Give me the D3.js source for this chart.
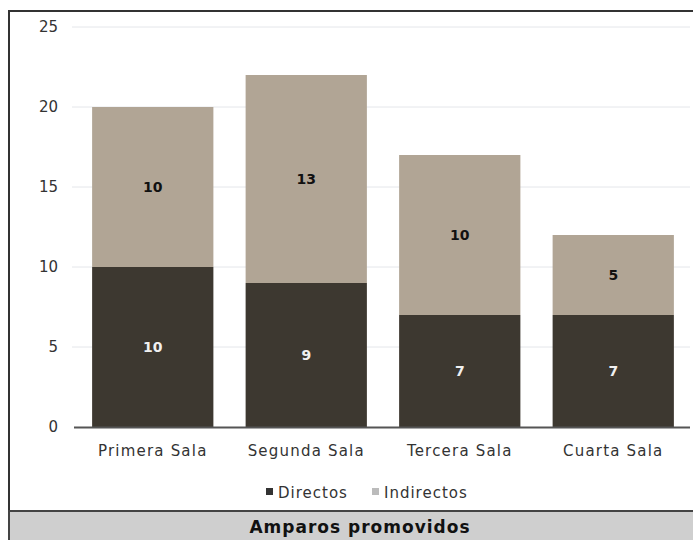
<!DOCTYPE html>
<html>
<head>
<meta charset="utf-8">
<script src="https://cdn.jsdelivr.net/npm/d3@7"></script>
<style>
body { margin: 0; background: #fff; }
text { font-family: "DejaVu Sans", sans-serif; }
</style>
</head>
<body>
<script>
// data
let salas = ["Primera Sala", "Segunda Sala", "Tercera Sala", "Cuarta Sala"];
let directos = [10, 9, 7, 7];
let indirectos = [10, 13, 10, 5];
let yTicks = [0, 5, 10, 15, 20, 25];
let seriesNames = ["Directos", "Indirectos"];
let title = "Amparos promovidos";

let colors = {Directos: "#3d3830", Indirectos: "#b1a595"};

let width = 693, height = 540;

let svg = d3.select("body").append("svg")
    .attr("width", width)
    .attr("height", height);

// outer frame + bottom band
svg.append("rect").attr("x", 9).attr("y", 11).attr("width", 700).attr("height", 540)
    .style("fill", "#fff").style("stroke", "#333").style("stroke-width", 2);
svg.append("rect").attr("x", 9).attr("y", 511).attr("width", 700).attr("height", 40)
    .style("fill", "#cfcfcf").style("stroke", "#444").style("stroke-width", 2);
svg.append("text")
    .attr("x", 360).attr("y", 533)
    .style("text-anchor", "middle")
    .style("font-weight", "bold")
    .style("font-size", "17px")
    .style("letter-spacing", "1px")
    .style("fill", "#111")
    .text(title);

// scales
var x = d3.scaleBand().domain(salas).range([76, 690]).paddingInner(0.21).paddingOuter(0.105);
var y = d3.scaleLinear().domain([0, 25]).range([427, 27]);

// gridlines
svg.append("g").selectAll("line")
    .data(yTicks.filter(d => d > 0))
    .join("line")
    .attr("x1", 72).attr("x2", 690)
    .attr("y1", d => y(d)).attr("y2", d => y(d))
    .style("stroke", "#e4e6ea").style("stroke-width", 1);

// y axis labels
var yAxis = svg.append("g")
    .attr("transform", "translate(58,0)")
    .call(d3.axisLeft(y).tickValues(yTicks).tickSize(0).tickPadding(0));
yAxis.select(".domain").remove();
yAxis.selectAll("text")
    .style("font-size", "15px")
    .style("fill", "#333")
    .attr("font-family", null);

// stacked bars
let table = salas.map((s, i) => ({sala: s, Directos: directos[i], Indirectos: indirectos[i]}));
let stack = d3.stack().keys(seriesNames)(table);

let layers = svg.append("g").selectAll("g")
    .data(stack)
    .join("g")
    .style("fill", d => colors[d.key]);

layers.selectAll("rect")
    .data(d => d)
    .join("rect")
    .attr("x", d => x(d.data.sala))
    .attr("width", x.bandwidth())
    .attr("y", d => y(d[1]))
    .attr("height", d => y(d[0]) - y(d[1]));

layers.selectAll("text")
    .data(d => d.map(v => ({key: d.key, v: v})))
    .join("text")
    .attr("x", d => x(d.v.data.sala) + x.bandwidth() / 2)
    .attr("y", d => y((d.v[0] + d.v[1]) / 2) + 5)
    .style("text-anchor", "middle")
    .style("font-weight", "bold")
    .style("font-size", "14px")
    .style("fill", d => d.key === "Directos" ? "#f0f0f0" : "#111")
    .text(d => d.v[1] - d.v[0]);

// x axis
var xAxis = svg.append("g")
    .attr("transform", "translate(0," + y(0) + ")")
    .call(d3.axisBottom(x).tickSize(0).tickPadding(18));
xAxis.select(".domain").attr("d", "M74,0.5H690").style("stroke", "#555").style("stroke-width", 2);
xAxis.selectAll("text")
    .style("font-size", "15px")
    .style("letter-spacing", "1.2px")
    .style("fill", "#333")
    .attr("font-family", null);

// legend
let legendItems = [
    {name: "Directos", x: 266, color: "#333"},
    {name: "Indirectos", x: 372, color: "#bbb"}
];
let legend = svg.append("g").selectAll("g")
    .data(legendItems)
    .join("g")
    .attr("transform", d => "translate(" + d.x + ",492)");
legend.append("rect").attr("x", 0).attr("y", -4).attr("width", 7).attr("height", 7)
    .style("fill", d => d.color);
legend.append("text").attr("x", 12).attr("y", 6)
    .style("font-size", "15px").style("letter-spacing", "1px").style("fill", "#333")
    .text(d => d.name);
</script>
</body>
</html>
